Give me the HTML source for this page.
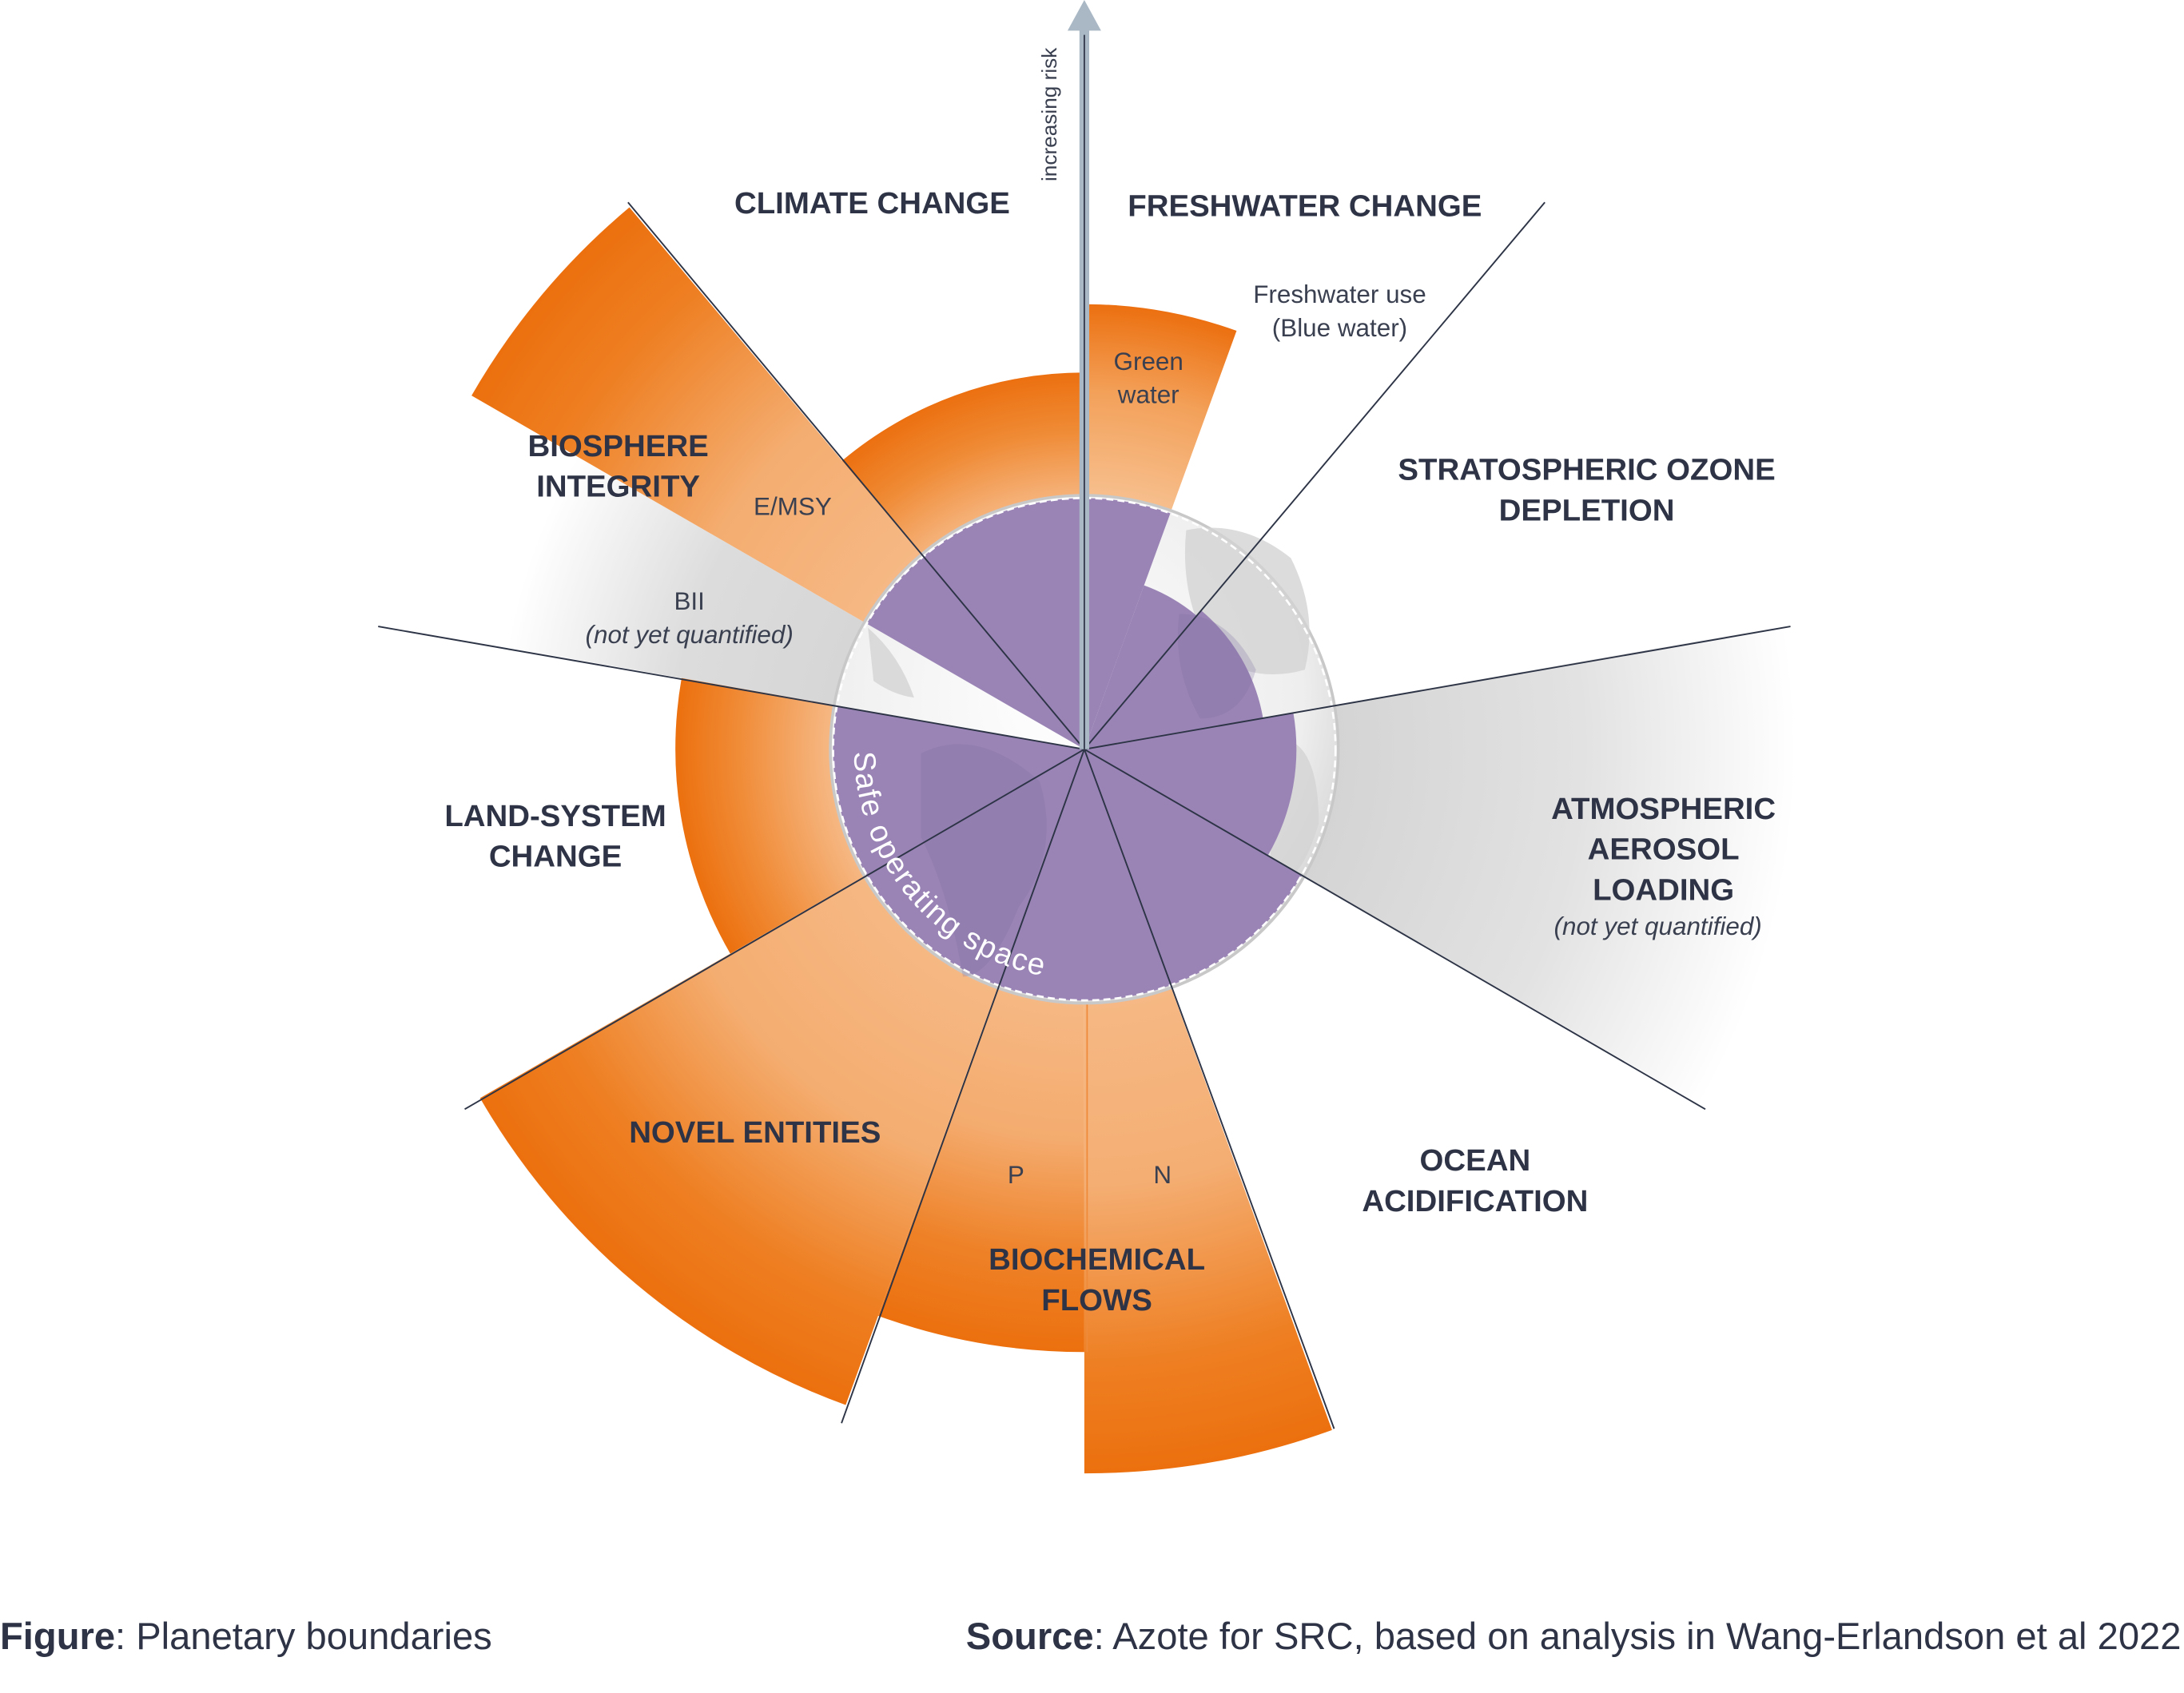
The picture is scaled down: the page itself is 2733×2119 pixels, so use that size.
<!DOCTYPE html>
<html><head><meta charset="utf-8"><style>
html,body{margin:0;padding:0;background:#fff;}
svg{display:block;}
text{font-family:"Liberation Sans",sans-serif;}
.h{font-size:22px;font-weight:bold;fill:#2e3446;text-anchor:middle;}
.s{font-size:18px;fill:#3a4050;text-anchor:middle;}
.i{font-size:18px;fill:#3a4050;text-anchor:middle;font-style:italic;}
</style></head><body>
<svg width="2733" height="2119" viewBox="0 0 1565 1213.4" xmlns="http://www.w3.org/2000/svg">
<defs>
<radialGradient id="gCl" gradientUnits="userSpaceOnUse" cx="777" cy="537" r="270"><stop offset="0.66" stop-color="#f6b57f"/><stop offset="0.85" stop-color="#ef8a34"/><stop offset="1" stop-color="#ec7010"/></radialGradient>
<radialGradient id="gGw" gradientUnits="userSpaceOnUse" cx="777" cy="537" r="319"><stop offset="0.56" stop-color="#f7c08f"/><stop offset="0.8" stop-color="#f3a15a"/><stop offset="1" stop-color="#ec7010"/></radialGradient>
<radialGradient id="gN" gradientUnits="userSpaceOnUse" cx="777" cy="537" r="519"><stop offset="0.35" stop-color="#f6b884"/><stop offset="0.6" stop-color="#f4ae73"/><stop offset="0.85" stop-color="#ee7f22"/><stop offset="1" stop-color="#ec700e"/></radialGradient>
<radialGradient id="gP" gradientUnits="userSpaceOnUse" cx="777" cy="537" r="432"><stop offset="0.42" stop-color="#f6b884"/><stop offset="0.65" stop-color="#f4ab6e"/><stop offset="0.85" stop-color="#ee8127"/><stop offset="1" stop-color="#ec700e"/></radialGradient>
<radialGradient id="gNo" gradientUnits="userSpaceOnUse" cx="777" cy="537" r="500"><stop offset="0.36" stop-color="#f6b884"/><stop offset="0.62" stop-color="#f4ad70"/><stop offset="0.85" stop-color="#ee7f22"/><stop offset="1" stop-color="#ec700e"/></radialGradient>
<radialGradient id="gL" gradientUnits="userSpaceOnUse" cx="777" cy="537" r="293"><stop offset="0.62" stop-color="#f6b884"/><stop offset="0.85" stop-color="#f08b36"/><stop offset="1" stop-color="#ec700e"/></radialGradient>
<radialGradient id="gE" gradientUnits="userSpaceOnUse" cx="777" cy="537" r="507"><stop offset="0.36" stop-color="#f6b884"/><stop offset="0.6" stop-color="#f4ad70"/><stop offset="0.85" stop-color="#ee7f22"/><stop offset="1" stop-color="#ec700e"/></radialGradient>
<radialGradient id="gB" gradientUnits="userSpaceOnUse" cx="777" cy="537" r="420"><stop offset="0.43" stop-color="#d6d6d6"/><stop offset="0.7" stop-color="#dcdcdc"/><stop offset="1" stop-color="#ffffff"/></radialGradient>
<radialGradient id="gA" gradientUnits="userSpaceOnUse" cx="777" cy="537" r="510"><stop offset="0.35" stop-color="#d4d4d4"/><stop offset="0.7" stop-color="#e2e2e2"/><stop offset="1" stop-color="#ffffff"/></radialGradient>
<radialGradient id="gG" cx="0.45" cy="0.4" r="0.6"><stop offset="0" stop-color="#ffffff"/><stop offset="0.8" stop-color="#eeeeee"/><stop offset="1" stop-color="#d8d8d8"/></radialGradient>
</defs>

<path d="M777 537 L1279.4 448.3 A510 510 0 0 1 1218.7 792 Z" fill="url(#gA)"/>
<path d="M777 537 L363.3 464 A420 420 0 0 1 413.3 327 Z" fill="url(#gB)"/>
<path d="M777 537 L603.4 330.2 A270 270 0 0 1 777 267 Z" fill="url(#gCl)"/>
<path d="M777 537 L777 218 A319 319 0 0 1 886.1 237.1 Z" fill="url(#gGw)"/>
<path d="M777 537 L954.5 1024.9 A519 519 0 0 1 777 1056 Z" fill="url(#gN)"/>
<path d="M777 537 L777 969 A432 432 0 0 1 629.3 943.1 Z" fill="url(#gP)"/>
<path d="M777 537 L606 1007 A500 500 0 0 1 344 787 Z" fill="url(#gNo)"/>
<path d="M777 537 L523.3 683.5 A293 293 0 0 1 488.4 486 Z" fill="url(#gL)"/>
<path d="M777 537 L337.9 283.5 A507 507 0 0 1 451 148.6 Z" fill="url(#gE)"/>

<circle cx="777" cy="537" r="182" fill="url(#gG)" stroke="#c8c8c8" stroke-width="2"/>
<g fill="#d3d3d3" opacity="0.8">
<path d="M850 380 Q890 372 925 400 Q945 440 935 480 Q900 490 870 470 Q845 430 850 380Z"/>
<path d="M905 530 Q945 520 945 590 Q930 640 910 630 Q912 580 905 530Z"/>
<path d="M622 450 Q645 470 655 500 Q640 498 626 488Z"/>
</g>
<g fill="#9a84b6">
<path d="M777 537 L932.9 627 A180 180 0 0 1 599.7 505.7 Z"/>
<path d="M777 537 L621.1 447 A180 180 0 0 1 838.6 367.9 Z"/>
<path d="M777 537 L819.8 419.5 A125 125 0 0 1 857.4 441.2 Z"/>
<path d="M777 537 L860.6 437.4 A130 130 0 0 1 905 514.4 Z"/>
<path d="M777 537 L926.7 510.6 A152 152 0 0 1 908.6 613 Z"/>
</g>
<g fill="#7f6a9f" opacity="0.25">
<path d="M660 540 Q700 520 745 560 Q760 610 730 650 Q710 700 690 700 Q680 640 660 600Z"/>
<path d="M845 440 Q880 440 900 480 Q890 515 860 515 Q840 480 845 440Z"/>
</g>
<circle cx="777" cy="537" r="180" fill="none" stroke="#fff" stroke-width="1.5" stroke-dasharray="5 3"/>

<g stroke="#2d3446" stroke-width="1.1">
<line x1="777" y1="537" x2="1107" y2="145"/>
<line x1="777" y1="537" x2="1283" y2="449"/>
<line x1="777" y1="537" x2="1222" y2="795"/>
<line x1="777" y1="537" x2="956" y2="1024"/>
<line x1="777" y1="537" x2="603" y2="1020"/>
<line x1="777" y1="537" x2="333" y2="795"/>
<line x1="777" y1="537" x2="271" y2="449"/>
<line x1="777" y1="537" x2="450" y2="145"/>
</g>
<line x1="779" y1="720" x2="779" y2="969" stroke="#ee8a3a" stroke-width="1"/>
<path d="M773.5 537 L773.5 22 L765 22 L777 0 L789 22 L780.5 22 L780.5 537 Z" fill="#a9b8c4"/>
<line x1="777" y1="537" x2="777" y2="25" stroke="#2d3446" stroke-width="1"/>
<text transform="translate(757,130) rotate(-90)" style="font-size:15px;fill:#3a4050;">increasing risk</text>

<path id="sp" d="M612 537 A165 165 0 0 0 805.7 699.5" fill="none"/>
<text style="font-size:22px;fill:#fff;letter-spacing:1px"><textPath href="#sp" startOffset="2">Safe operating space</textPath></text>

<text class="h" x="625" y="153">CLIMATE CHANGE</text>
<text class="h" x="935" y="155">FRESHWATER CHANGE</text>
<text class="s" x="960" y="217">Freshwater use</text>
<text class="s" x="960" y="241">(Blue water)</text>
<text class="s" x="823" y="265">Green</text>
<text class="s" x="823" y="289">water</text>
<text class="h" x="1137" y="344">STRATOSPHERIC OZONE</text>
<text class="h" x="1137" y="373">DEPLETION</text>
<text class="h" x="1192" y="587">ATMOSPHERIC</text>
<text class="h" x="1192" y="616">AEROSOL</text>
<text class="h" x="1192" y="645">LOADING</text>
<text class="i" x="1188" y="670">(not yet quantified)</text>
<text class="h" x="1057" y="839">OCEAN</text>
<text class="h" x="1057" y="868">ACIDIFICATION</text>
<text class="h" x="786" y="910">BIOCHEMICAL</text>
<text class="h" x="786" y="939">FLOWS</text>
<text class="s" x="728" y="848">P</text>
<text class="s" x="833" y="848">N</text>
<text class="h" x="541" y="819">NOVEL ENTITIES</text>
<text class="h" x="398" y="592">LAND-SYSTEM</text>
<text class="h" x="398" y="621">CHANGE</text>
<text class="h" x="443" y="327">BIOSPHERE</text>
<text class="h" x="443" y="356">INTEGRITY</text>
<text class="s" x="568" y="369">E/MSY</text>
<text class="s" x="494" y="437">BII</text>
<text class="i" x="494" y="461">(not yet quantified)</text>

<text x="0" y="1182" style="font-size:27px;fill:#2e3446;"><tspan font-weight="bold">Figure</tspan>: Planetary boundaries</text>
<text x="1563" y="1182" style="font-size:27px;fill:#2e3446;text-anchor:end;"><tspan font-weight="bold">Source</tspan>: Azote for SRC, based on analysis in Wang-Erlandson et al 2022</text>
</svg>
</body></html>
